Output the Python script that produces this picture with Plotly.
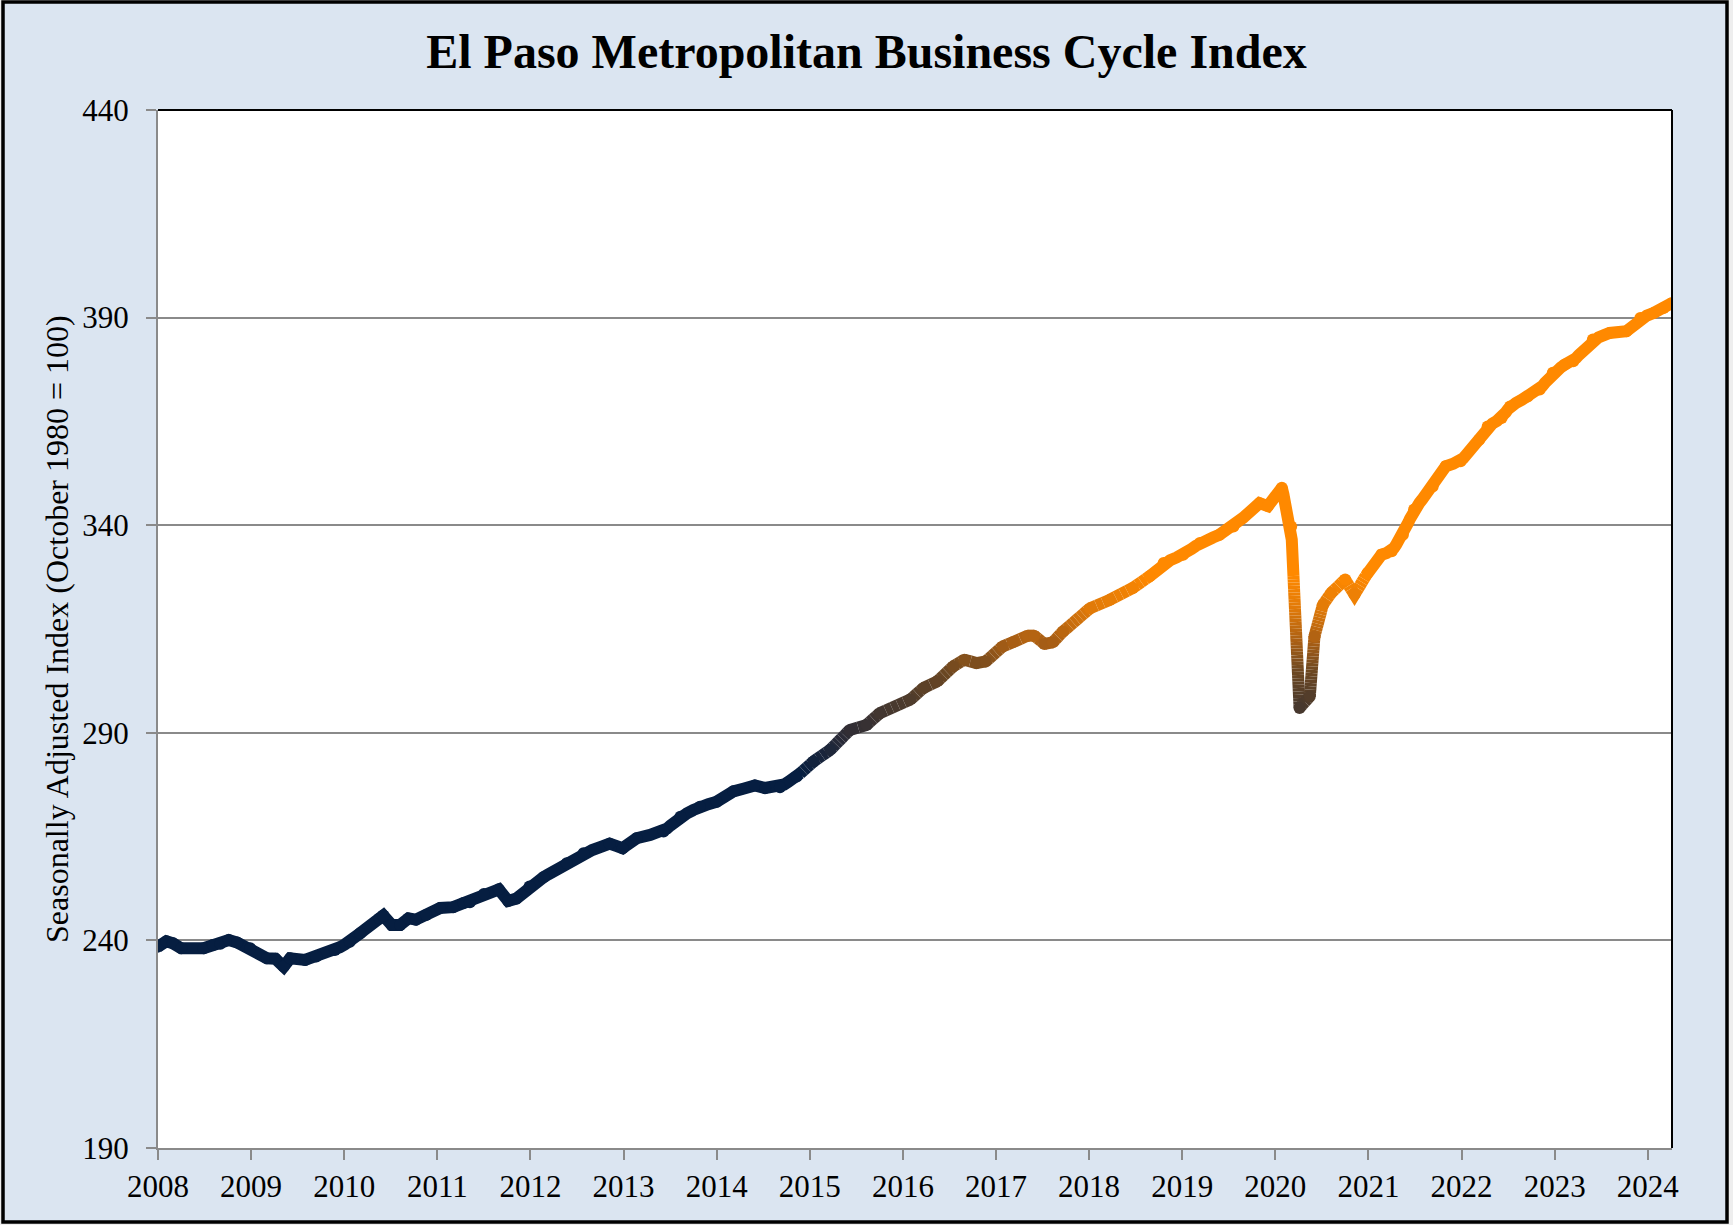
import math
import plotly.graph_objects as go

# ---------------- data ----------------
years = [2008.00, 2008.09, 2008.16, 2008.25, 2008.49, 2008.59, 2008.67, 2008.76, 2008.85, 2008.99,
         2009.17, 2009.26, 2009.35, 2009.42, 2009.58, 2009.70, 2009.90, 2010.06, 2010.17, 2010.38,
         2010.42, 2010.51, 2010.60, 2010.69, 2010.77, 2010.88, 2011.03, 2011.17, 2011.28, 2011.35,
         2011.50, 2011.66, 2011.76, 2011.85, 2011.99, 2012.14, 2012.39, 2012.57, 2012.85, 2012.99,
         2013.14, 2013.43, 2013.61, 2013.82, 2014.00, 2014.18, 2014.41, 2014.52, 2014.68, 2014.86,
         2015.04, 2015.22, 2015.43, 2015.61, 2015.75, 2016.08, 2016.22, 2016.37, 2016.54, 2016.66,
         2016.79, 2016.89, 2017.07, 2017.18, 2017.34, 2017.41, 2017.52, 2017.61, 2017.72, 2018.01,
         2018.22, 2018.47, 2018.65, 2018.80, 2019.01, 2019.19, 2019.40, 2019.55, 2019.83, 2019.92,
         2020.07, 2020.17, 2020.26, 2020.37, 2020.42, 2020.51, 2020.60, 2020.75, 2020.85, 2020.99,
         2021.14, 2021.25, 2021.37, 2021.49, 2021.69, 2021.83, 2021.99, 2022.19, 2022.28, 2022.43,
         2022.52, 2022.71, 2022.84, 2022.98, 2023.11, 2023.20, 2023.41, 2023.59, 2023.77, 2023.92,
         2024.06, 2024.17, 2024.26]
index_values = [238.5, 239.8, 239.3, 238.1, 238.1, 238.9, 239.2, 240.1, 239.5, 238.1,
                235.7, 235.6, 233.7, 235.7, 235.3, 236.1, 237.7, 239.7, 241.7, 245.3,
                246.0, 243.7, 243.7, 245.3, 245.0, 246.1, 247.8, 248.0, 249.0, 249.2,
                251.2, 252.3, 249.5, 250.1, 253.0, 255.2, 258.6, 261.0, 263.3, 262.2,
                264.6, 266.2, 269.8, 272.2, 273.4, 275.9, 277.3, 276.7, 276.9, 279.5,
                283.1, 285.9, 290.7, 291.9, 294.7, 298.0, 300.8, 302.4, 306.0, 307.6,
                306.8, 307.2, 310.8, 311.8, 313.4, 313.4, 311.4, 311.8, 314.4, 320.0,
                322.0, 324.9, 327.7, 330.9, 332.9, 335.7, 337.7, 339.7, 345.3, 344.6,
                349.0, 339.7, 296.0, 298.8, 313.2, 320.8, 323.7, 326.9, 323.3, 328.5,
                332.9, 333.7, 337.7, 343.8, 349.3, 354.2, 355.4, 360.6, 363.8, 365.8,
                368.6, 371.0, 372.7, 376.7, 378.7, 379.5, 384.7, 386.3, 386.7, 389.9,
                391.1, 392.3, 393.5]

x_tick_vals = list(range(2008, 2025))
x_tick_text = [str(v) for v in x_tick_vals]
y_tick_vals = [190, 240, 290, 340, 390, 440]

TITLE = "El Paso Metropolitan Business Cycle Index"
Y_TITLE = "Seasonally Adjusted Index (October 1980 = 100)"

# ---------------- styling ----------------
W, H = 1733, 1225
ML, MR, MT, MB = 158, 61, 110, 77
PW, PH = W - ML - MR, H - MT - MB
FONT = "Liberation Serif"
GRID = "#8a8a8a"
BG = "#DBE5F1"
LW = 12

# colour gradient by index level: navy -> dark brown -> orange
STOPS = [(280, (6, 30, 65)), (290, (47, 45, 53)), (297, (75, 58, 45)),
         (305, (110, 72, 33)), (312, (170, 95, 20)), (320, (225, 122, 8)),
         (328, (255, 137, 0))]


def colour_for(v):
    if v <= STOPS[0][0]:
        c = STOPS[0][1]
    elif v >= STOPS[-1][0]:
        c = STOPS[-1][1]
    else:
        for (v0, c0), (v1, c1) in zip(STOPS[:-1], STOPS[1:]):
            if v0 <= v <= v1:
                t = (v - v0) / (v1 - v0)
                c = tuple(round(a + (b - a) * t) for a, b in zip(c0, c1))
                break
    return "#%02x%02x%02x" % c


fig = go.Figure()

# draw each data segment, split into short pieces so that the colour follows the level
runs = []  # (colour, xs, ys)
for i in range(len(years) - 1):
    x0, y0, x1, y1 = years[i], index_values[i], years[i + 1], index_values[i + 1]
    n = max(1, math.ceil(abs(y1 - y0) / 0.8))
    for k in range(n):
        ta, tb = k / n, (k + 1) / n
        xa, ya = x0 + (x1 - x0) * ta, y0 + (y1 - y0) * ta
        xb, yb = x0 + (x1 - x0) * tb, y0 + (y1 - y0) * tb
        col = colour_for((ya + yb) / 2)
        if runs and runs[-1][0] == col:
            runs[-1][1].append(xb)
            runs[-1][2].append(yb)
        else:
            runs.append((col, [xa, xb], [ya, yb]))

for col, xs, ys in runs:
    fig.add_trace(go.Scatter(x=xs, y=ys, mode="lines",
                             line=dict(color=col, width=LW),
                             hoverinfo="skip", showlegend=False))

# round joints at the data vertices
fig.add_trace(go.Scatter(x=years, y=index_values, mode="markers",
                         marker=dict(size=LW, color=[colour_for(v) for v in index_values],
                                     line=dict(width=0)),
                         hoverinfo="skip", showlegend=False))

# outer frame and white plot area (paper coordinates)
px0, px1 = (3 - ML) / PW, (W - 6 - ML) / PW
py0, py1 = (MT + PH - (H - 3)) / PH, (MT + PH - 2) / PH
shapes = [
    dict(type="rect", xref="paper", yref="paper", x0=px0, x1=px1, y0=py0, y1=py1,
         fillcolor=BG, line=dict(color="black", width=3.5), layer="below"),
    dict(type="rect", xref="paper", yref="paper", x0=0, x1=1, y0=0, y1=1,
         fillcolor="white", line=dict(width=0), layer="below"),
    dict(type="line", xref="paper", yref="paper", x0=0, x1=1, y0=1, y1=1,
         line=dict(color="black", width=2), layer="above"),
    dict(type="line", xref="paper", yref="paper", x0=1, x1=1, y0=0, y1=1,
         line=dict(color="black", width=2), layer="above"),
]

fig.update_layout(
    width=W, height=H,
    margin=dict(l=ML, r=MR, t=MT, b=MB, pad=0),
    paper_bgcolor="#EEEEEE",
    plot_bgcolor="white",
    shapes=shapes,
    title=dict(text=TITLE, x=0.5, xanchor="center", xref="container",
               y=1 - 51 / H, yref="container", yanchor="middle",
               font=dict(family=FONT, size=48, color="black", weight="bold")),
    annotations=[dict(text=Y_TITLE, xref="paper", yref="paper",
                      x=(57 - ML) / PW, y=0.5, xanchor="center", yanchor="middle",
                      textangle=-90, showarrow=False,
                      font=dict(family=FONT, size=32, color="black"))],
    xaxis=dict(range=[2008, 2024.26], tickmode="array", tickvals=x_tick_vals,
               ticktext=x_tick_text, showgrid=False, zeroline=False,
               showline=True, linecolor=GRID, linewidth=2,
               ticks="outside", ticklen=10, tickwidth=2, tickcolor=GRID,
               tickfont=dict(family=FONT, size=31, color="black")),
    yaxis=dict(range=[190, 440], tickmode="array", tickvals=y_tick_vals,
               showgrid=True, gridcolor=GRID, gridwidth=2, zeroline=False,
               showline=True, linecolor=GRID, linewidth=2,
               ticks="outside", ticklen=10, tickwidth=2, tickcolor=GRID,
               ticklabelstandoff=11,
               tickfont=dict(family=FONT, size=31, color="black")),
)

fig.write_html("out.html",
               config={"displayModeBar": False},
               post_script="document.body.style.margin='0';document.body.style.overflow='hidden';")
